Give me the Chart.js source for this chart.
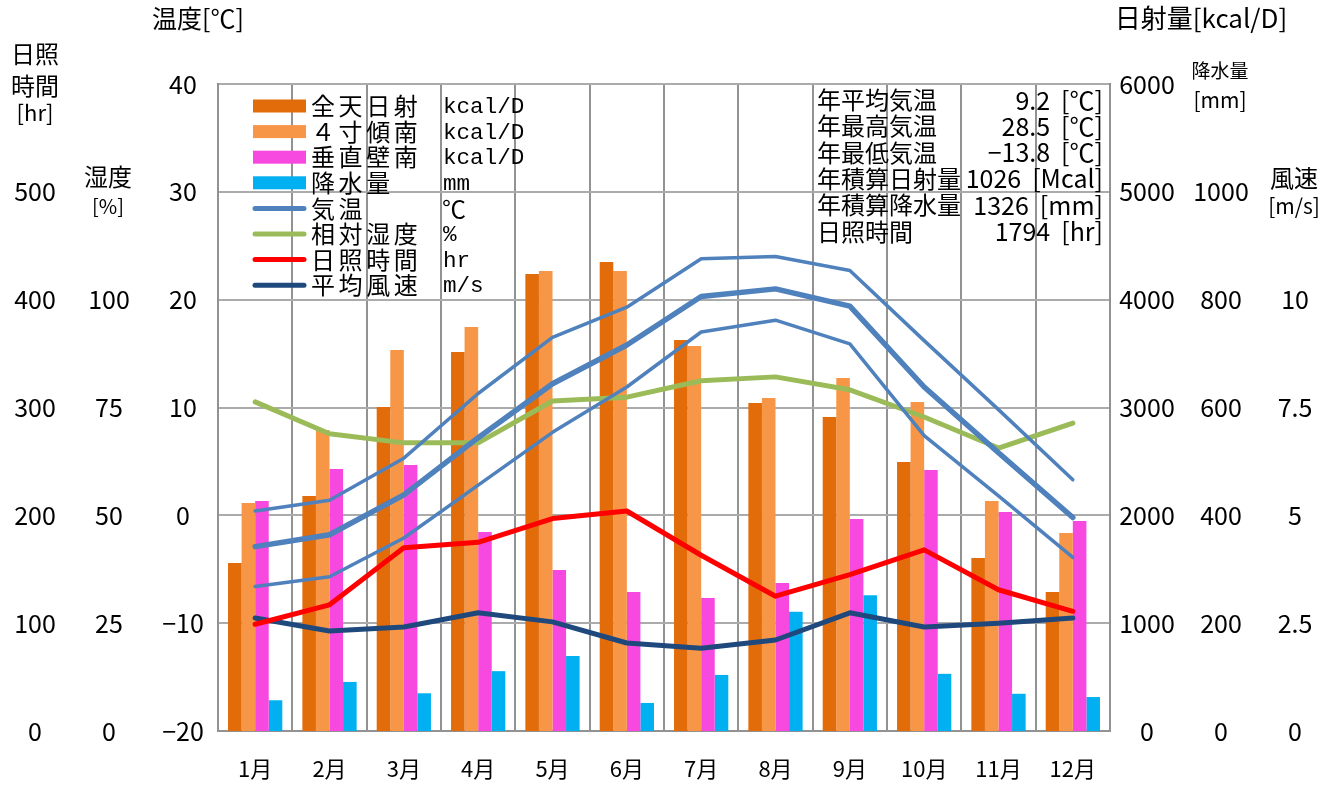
<!DOCTYPE html>
<html><head><meta charset="utf-8">
<script src="https://cdn.jsdelivr.net/npm/chart.js@4.4.1/dist/chart.umd.min.js"></script>
<style>html,body{margin:0;padding:0;background:#fff;}#wrap{width:1337px;height:786px;}</style>
</head><body><div id="wrap"><canvas id="c" width="1337" height="786"></canvas></div>
<script>
// ---- data ----
const months = ['1月','2月','3月','4月','5月','6月','7月','8月','9月','10月','11月','12月'];
const solarGlobal = [1558,2179,3005,3515,4238,4349,3626,3042,2912,2495,1604,1289];
const solarTilt4  = [2114,2791,3533,3747,4266,4266,3570,3088,3274,3051,2133,1836];
const solarVertS  = [2133,2430,2467,1846,1493,1289,1233,1372,1966,2420,2031,1948];
const precip      = [57,91,70,111,139,52,104,221,252,106,69,63];
const tempAvg     = [-2.9,-1.8,1.9,7.2,12.2,15.8,20.3,21.0,19.4,11.9,5.8,-0.2];
const tempMax     = [0.4,1.4,5.3,11.3,16.5,19.3,23.8,24.0,22.7,16.2,9.8,3.3];
const tempMin     = [-6.6,-5.7,-2.1,2.8,7.7,11.9,17.0,18.1,15.9,7.4,1.8,-3.9];
const humidity    = [76.3,68.9,66.8,66.8,76.5,77.4,81.2,82.1,79.1,72.8,65.6,71.4];
const sunshine    = [99,117,170,175,197,204,163,125,145,168,131,111];
const wind        = [2.62,2.32,2.41,2.74,2.53,2.04,1.92,2.11,2.74,2.41,2.50,2.62];

const tempTicks   = [-20,-10,0,10,20,30,40];
const hoursTicks  = [0,100,200,300,400,500];
const humTicks    = [0,25,50,75,100];
const solarTicks  = [0,1000,2000,3000,4000,5000,6000];
const precipTicks = [0,200,400,600,800,1000];
const windTicks   = [0,2.5,5,7.5,10];

const legendNames = ['全天日射','４寸傾南','垂直壁南','降水量','気温','相対湿度','日照時間','平均風速'];
const legendUnits = ['kcal/D','kcal/D','kcal/D','mm','℃','%','hr','m/s'];
const statLabels  = ['年平均気温','年最高気温','年最低気温','年積算日射量','年積算降水量','日照時間'];
const statValues  = ['9.2','28.5','−13.8','1026','1326','1794'];
const statUnits   = ['[℃]','[℃]','[℃]','[Mcal]','[mm]','[hr]'];

// ---- styling ----
const FAM = '"Noto Sans CJK JP", "Noto Sans", sans-serif';
const MONO = '"Liberation Mono", "DejaVu Sans Mono", monospace';
const TICK = 25;
const C = {dark:'#E36C0A', light:'#F79646', mag:'#F748DF', cyan:'#00B0F0', blue:'#4F81BD', green:'#9BBB59', red:'#FF0000', navy:'#1F497D'};
const fmtNum = v => (v < 0 ? '−' + Math.abs(v) : String(v));

const mctx = document.createElement('canvas').getContext('2d');
function widest(vals){ mctx.font = TICK + 'px ' + FAM; return Math.max(...vals.map(v => mctx.measureText(fmtNum(v)).width)); }
function padL(edge, center, vals){ return edge - center - widest(vals)/2; }
function padR(edge, center, vals){ return center - edge - widest(vals)/2; }

function yAxis(pos, min, max, ticks, weight, width, pad, extra){
  return Object.assign({
    type:'linear', position:pos, min:min, max:max, weight:weight,
    afterBuildTicks: s => { s.ticks = ticks.map(v => ({value:v})); },
    afterFit: s => { s.width = width; },
    grid:{display:false, drawTicks:false},
    border:{display:false},
    ticks:{padding:pad, crossAlign:'center', color:'#000', font:{size:TICK, family:FAM}, callback: v => fmtNum(v)}
  }, extra || {});
}

const overlay = {
  id:'overlay',
  afterDraw(chart){
    const ctx = chart.ctx;
    ctx.save();
    ctx.fillStyle = '#000';
    ctx.textBaseline = 'middle';
    const txt = (s, x, y, size, align, fam) => { ctx.font = size + 'px ' + (fam || FAM); ctx.textAlign = align || 'center'; ctx.fillText(s, x, y); };
    // axis titles
    txt('温度[℃]', 198, 18, 25);
    txt('日照', 35, 54, 24); txt('時間', 35, 86, 24); txt('[hr]', 35, 113, 22);
    txt('湿度', 108, 177, 24); txt('[%]', 108, 206, 20);
    txt('日射量[kcal/D]', 1201, 18, 26);
    txt('降水量', 1220, 71, 19); txt('[mm]', 1220, 100, 21);
    txt('風速', 1294, 178, 24); txt('[m/s]', 1294, 206, 21);

    // legend
    const ds = chart.data.datasets;
    const legendSrc = [0,1,2,3,4,7,8,9].map(i => ds[i]);
    legendNames.forEach((name, i) => {
      const cy = 106 + i * 25.6;
      const d = legendSrc[i];
      if (d.type === 'bar') {
        ctx.fillStyle = d.backgroundColor;
        ctx.fillRect(253, cy - 6.5, 53, 13);
      } else {
        ctx.strokeStyle = d.borderColor; ctx.lineWidth = 5; ctx.lineCap = 'round';
        ctx.beginPath(); ctx.moveTo(255, cy); ctx.lineTo(304, cy); ctx.stroke();
      }
      ctx.fillStyle = '#000';
      ctx.textAlign = 'left';
      ctx.font = '24px ' + FAM;
      let x = 311;
      for (const ch of name) { ctx.fillText(ch, x, cy); x += 27.6; }
      const u = legendUnits[i];
      if (u === '℃') { ctx.font = '24px ' + FAM; ctx.fillText(u, 442, cy); }
      else { ctx.font = '22.6px ' + MONO; ctx.fillText(u, 443, cy + 1); }
    });

    // statistics table
    statLabels.forEach((s, i) => {
      const cy = 100 + i * 26.3;
      ctx.font = '24px ' + FAM;
      ctx.textAlign = 'left'; ctx.fillText(s, 817, cy);
      ctx.font = '25px ' + FAM;
      ctx.textAlign = 'right'; ctx.fillText(statUnits[i], 1103, cy);
      const uw = ctx.measureText(statUnits[i]).width;
      ctx.fillText(statValues[i], 1103 - uw - 11, cy);
    });
    ctx.restore();
  }
};

const chart = new Chart(document.getElementById('c'), {
  data:{
    labels: months,
    datasets:[
      {type:'bar', label:'全天日射', data:solarGlobal, backgroundColor:C.dark, yAxisID:'ySolar', order:1},
      {type:'bar', label:'４寸傾南', data:solarTilt4, backgroundColor:C.light, yAxisID:'ySolar', order:1},
      {type:'bar', label:'垂直壁南', data:solarVertS, backgroundColor:C.mag, yAxisID:'ySolar', order:1},
      {type:'bar', label:'降水量', data:precip, backgroundColor:C.cyan, yAxisID:'yPrecip', order:1},
      {type:'line', label:'気温', data:tempAvg, borderColor:C.blue, borderWidth:5.5, yAxisID:'yTemp', order:0},
      {type:'line', label:'最高気温', data:tempMax, borderColor:C.blue, borderWidth:3.5, yAxisID:'yTemp', order:0},
      {type:'line', label:'最低気温', data:tempMin, borderColor:C.blue, borderWidth:3.5, yAxisID:'yTemp', order:0},
      {type:'line', label:'相対湿度', data:humidity, borderColor:C.green, borderWidth:5, yAxisID:'yHum', order:0},
      {type:'line', label:'日照時間', data:sunshine, borderColor:C.red, borderWidth:5, yAxisID:'yHours', order:0},
      {type:'line', label:'平均風速', data:wind, borderColor:C.navy, borderWidth:5, yAxisID:'yWind', order:0}
    ]
  },
  options:{
    responsive:false, animation:false, devicePixelRatio:1,
    layout:{padding:{top:84, left:0, right:0, bottom:0}},
    datasets:{
      bar:{categoryPercentage:0.73, barPercentage:1.0, borderWidth:0},
      line:{pointRadius:0, pointHoverRadius:0, tension:0, fill:false, borderCapStyle:'round', borderJoinStyle:'round'}
    },
    plugins:{legend:{display:false}, tooltip:{enabled:false}, title:{display:false}},
    scales:{
      x:{
        type:'category', position:'bottom', offset:true,
        afterFit: s => { s.height = 55; },
        grid:{display:true, color:'#929292', lineWidth:2, drawTicks:false, offset:true},
        border:{display:true, color:'#929292', width:2},
        ticks:{padding:24, color:'#000', font:{size:22, family:FAM}, maxRotation:0, autoSkip:false}
      },
      yTemp: yAxis('left', -20, 40, tempTicks, 0, 71, padL(218,183,tempTicks), {
        grid:{display:true, color:'#ababab', lineWidth:2, drawTicks:false},
        border:{display:true, color:'#929292', width:2}
      }),
      yHum:   yAxis('left', 0, 150, humTicks, 1, 75, padL(147,109,humTicks)),
      yHours: yAxis('left', 0, 600, hoursTicks, 2, 72, padL(72,35,hoursTicks)),
      ySolar: yAxis('right', 0, 6000, solarTicks, 0, 74, padR(1110,1147,solarTicks), {
        border:{display:true, color:'#929292', width:2}
      }),
      yPrecip: yAxis('right', 0, 1200, precipTicks, 1, 74, padR(1184,1221,precipTicks)),
      yWind:   yAxis('right', 0, 15, windTicks, 2, 79, padR(1258,1295,windTicks))
    }
  },
  plugins:[overlay]
});
</script></body></html>
